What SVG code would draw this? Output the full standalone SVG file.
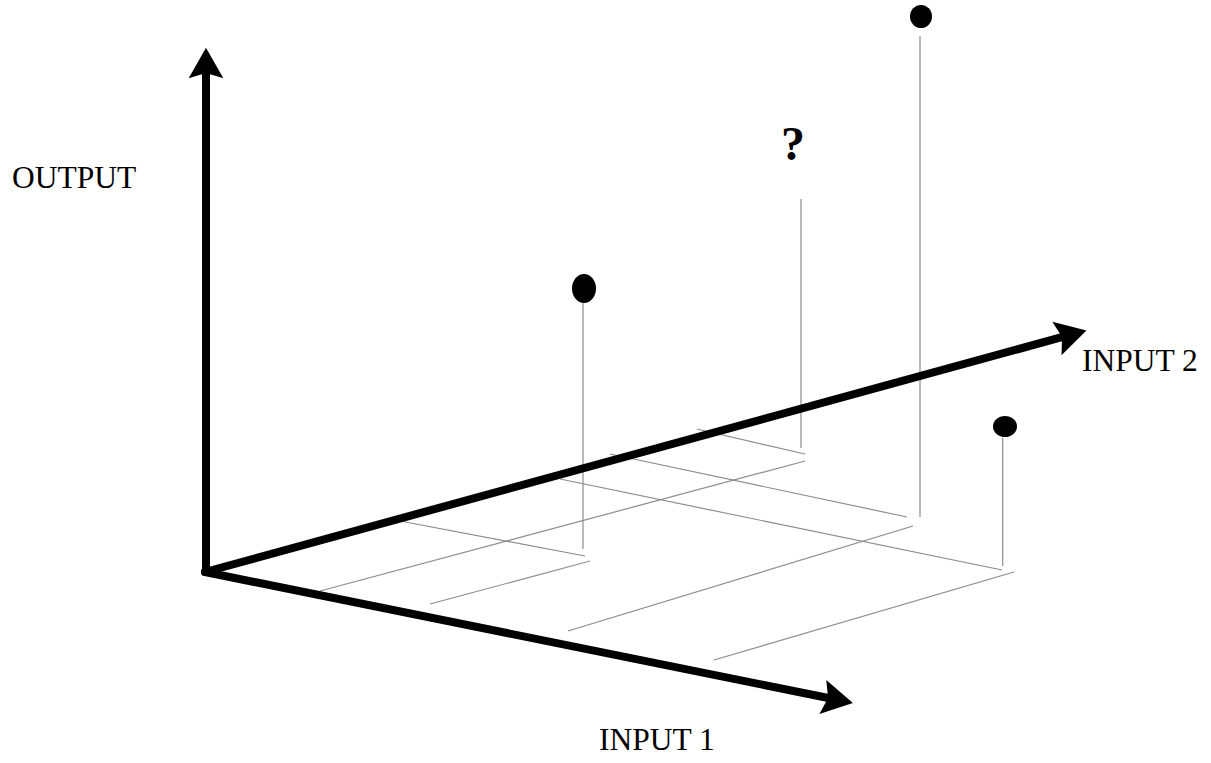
<svg xmlns="http://www.w3.org/2000/svg" width="1211" height="763" viewBox="0 0 1211 763">
<style>
.axis{stroke:#000;stroke-width:8;fill:none;stroke-linecap:round}
.grid{stroke:#8c8c8c;stroke-width:1.2;fill:none}
.lbl{font-family:"Liberation Serif","Times New Roman",serif;font-size:31.5px;fill:#000}
.q{font-family:"Liberation Serif","Times New Roman",serif;font-size:48px;font-weight:bold;fill:#000}
.dot{fill:#000}
</style>
<defs>
<marker id="ah" markerUnits="userSpaceOnUse" markerWidth="40" markerHeight="40" viewBox="-10 -15 30 30" refX="0" refY="0" orient="auto">
<path d="M15,0 L-8,-13 L-4,0 L-8,13 Z" fill="#000"/>
</marker>
</defs>
<rect width="1211" height="763" fill="#fff"/>
<g id="grid">
<line class="grid" x1="400" y1="521" x2="585" y2="556"/>
<line class="grid" x1="560" y1="479" x2="1002" y2="570"/>
<line class="grid" x1="610" y1="454" x2="907" y2="517"/>
<line class="grid" x1="697" y1="429" x2="805" y2="454"/>
<line class="grid" x1="320" y1="591" x2="805" y2="461"/>
<line class="grid" x1="430" y1="604" x2="590" y2="561"/>
<line class="grid" x1="568" y1="631" x2="913" y2="526"/>
<line class="grid" x1="714" y1="660" x2="1014" y2="572"/>
</g>
<g id="stems">
<line class="grid" x1="583" y1="303" x2="583" y2="549"/>
<line class="grid" x1="801" y1="199" x2="801" y2="448"/>
<line class="grid" x1="920" y1="36" x2="920" y2="517"/>
<line class="grid" x1="1002.7" y1="438" x2="1002.7" y2="566"/>
</g>
<g id="connectors">
<line class="axis" x1="206" y1="572" x2="206" y2="67.7" marker-end="url(#ah)"/>
<line class="axis" x1="205" y1="572" x2="1067.2" y2="335.7" marker-end="url(#ah)"/>
<line class="axis" x1="205" y1="572" x2="833.3" y2="699" marker-end="url(#ah)"/>
</g>
<g id="output-label"><text class="lbl" x="12" y="188">OUTPUT</text></g>
<g id="input2-label"><text class="lbl" x="1082" y="371">INPUT 2</text></g>
<g id="input1-label"><text class="lbl" x="599" y="750">INPUT 1</text></g>
<g id="point-left"><ellipse class="dot" cx="584" cy="288.5" rx="12" ry="14.5"/></g>
<g id="point-top"><ellipse class="dot" cx="921" cy="16.5" rx="11" ry="11.5"/></g>
<g id="point-right"><ellipse class="dot" cx="1005" cy="426.5" rx="12" ry="10.5"/></g>
<g id="point-unknown"><text class="q" x="793" y="160" text-anchor="middle">?</text></g>
</svg>
